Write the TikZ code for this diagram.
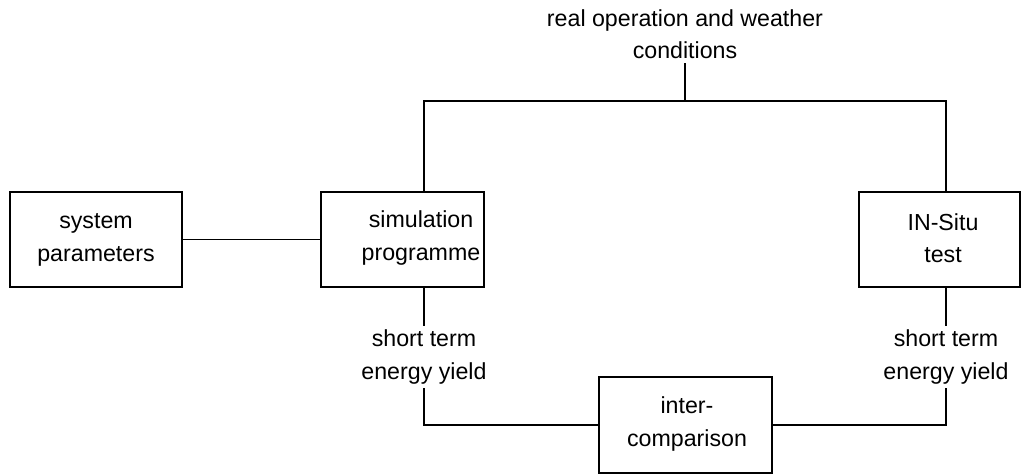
\documentclass[tikz,border=0pt]{standalone}
\usepackage{fontspec}
\setmainfont{Liberation Sans}
\usetikzlibrary{calc, positioning}
\tikzset{
  block/.style={draw, line width=0.8pt, inner sep=0pt},
  txt/.style={align=center, inner sep=3pt, font=\fontsize{16.5}{23}\selectfont},
  wire/.style={line width=0.8pt}
}
\begin{document}
\begin{tikzpicture}[x=0.025cm,y=-0.025cm]
\useasboundingbox (0,0) rectangle (1021,474);
% boxes
\node[block, minimum width=172*0.025cm, minimum height=95*0.025cm] (sys) at (96,239.5) {};
\node[block, minimum width=163*0.025cm, minimum height=95*0.025cm] (sim) at (402.5,239.5) {};
\node[block, minimum width=161*0.025cm, minimum height=95*0.025cm] (situ) at (939.5,239.5) {};
\node[block, minimum width=173*0.025cm, minimum height=96*0.025cm] (cmp) at (685.5,425) {};
% texts
\node[txt] (systxt) at (96,240) {system\\parameters};
\node[txt] (simtxt) at (421,238) {simulation\\programme};
\node[txt] (situtxt) at (943,238) {IN-Situ\\test};
\node[txt] (cmptxt) at (687,424) {inter-\\comparison};
\node[txt] (cond) at (685,34) {real operation and weather\\conditions};
\node[txt] (stsim) at (424,357) {short term\\energy yield};
\node[txt] (stsitu) at (946,357) {short term\\energy yield};
% connectors
\coordinate (simtop) at (424,101);
\coordinate (situtop) at (946,101);
\draw[wire] (sys.east) -- (sim.west);
\draw[wire] (sim.north -| simtop) -- (simtop) -- (situtop) -- (situ.north -| situtop);
\draw[wire] (cond.south) -- (cond.south |- simtop);
\draw[wire] (sim.south -| stsim) -- (stsim.north);
\draw[wire] (stsim.south) -- (stsim.south |- cmp.west) -- (cmp.west);
\draw[wire] (situ.south -| stsitu) -- (stsitu.north);
\draw[wire] (stsitu.south) -- (stsitu.south |- cmp.east) -- (cmp.east);
\end{tikzpicture}
\end{document}
